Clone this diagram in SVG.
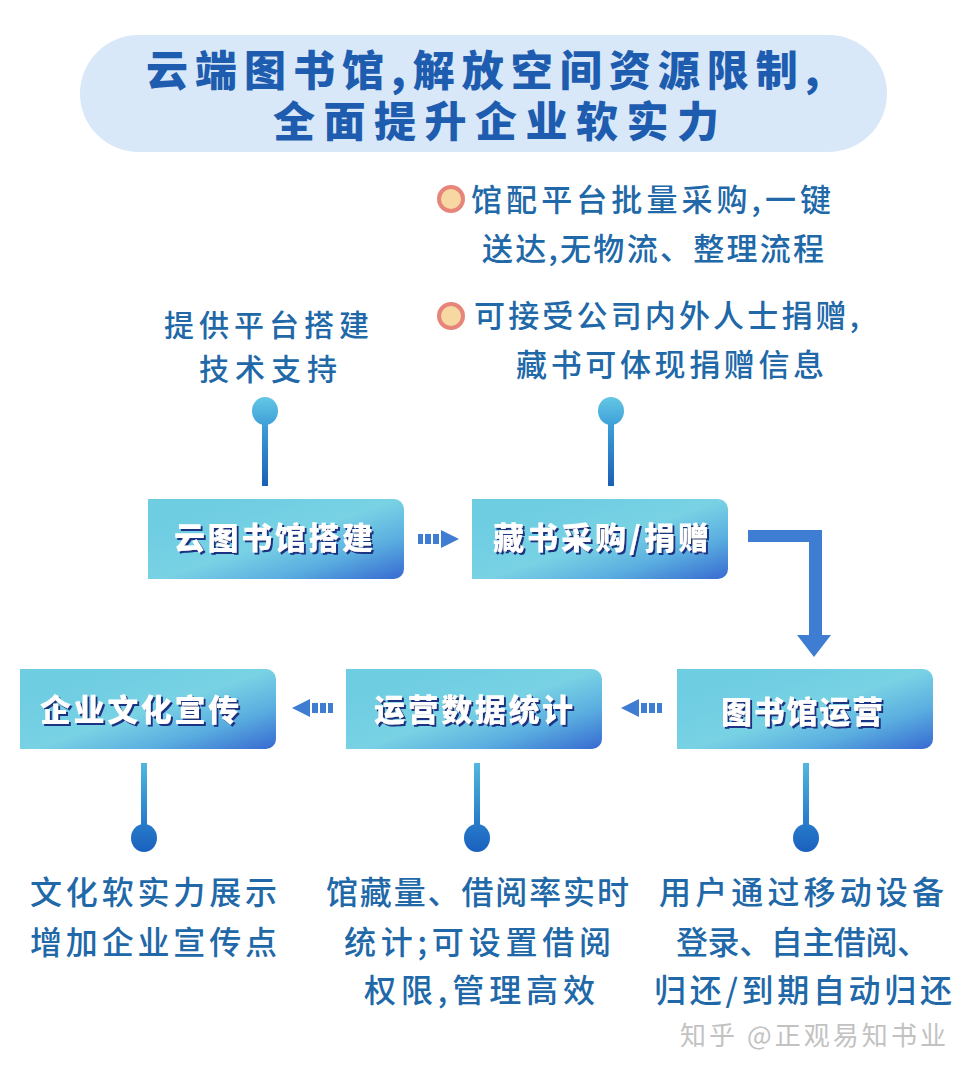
<svg xmlns="http://www.w3.org/2000/svg" width="968" height="1068" viewBox="0 0 968 1068">
<defs>
<style>
.title{font-family:"Noto Sans CJK SC","Noto Sans",sans-serif;font-weight:900;font-size:42px;fill:#1d5caf}
.note{font-family:"Noto Sans CJK SC","Noto Sans",sans-serif;font-weight:500;font-size:30px;fill:#2168a8}
.nt{font-family:"Noto Sans CJK SC","Noto Sans",sans-serif;font-weight:900;font-size:31px;fill:#ffffff;filter:url(#sh)}
.wm{font-family:"Noto Sans CJK SC","Noto Sans",sans-serif;font-weight:400;font-size:26px;fill:#c2c2c2}
.box{fill:url(#boxg)}
.arr{fill:#3f7dd2}
.bul{fill:#f8d8a2;stroke:#e8857a;stroke-width:4}
</style>
<linearGradient id="boxg" x1="0.2" y1="0.2" x2="1" y2="0.95">
<stop offset="0" stop-color="#6fcde2"/>
<stop offset="0.4" stop-color="#78d2e4"/>
<stop offset="0.7" stop-color="#5aaee0"/>
<stop offset="1" stop-color="#3a70d2"/>
</linearGradient>
<linearGradient id="pinTop" x1="0" y1="398" x2="0" y2="486" gradientUnits="userSpaceOnUse">
<stop offset="0" stop-color="#62c6e4"/>
<stop offset="0.35" stop-color="#3a9bd6"/>
<stop offset="1" stop-color="#1c5fb6"/>
</linearGradient>
<linearGradient id="pinBot" x1="0" y1="763" x2="0" y2="852" gradientUnits="userSpaceOnUse">
<stop offset="0" stop-color="#52b8de"/>
<stop offset="0.6" stop-color="#2a82cc"/>
<stop offset="1" stop-color="#1a60bf"/>
</linearGradient>
<filter id="sh" x="-10%" y="-20%" width="120%" height="150%">
<feDropShadow dx="2" dy="2" stdDeviation="0.3" flood-color="#1a3382" flood-opacity="1"/>
</filter>
</defs>
<rect x="0" y="0" width="968" height="1068" fill="#ffffff"/>

<g id="title">
<rect x="80" y="35" width="807" height="117" rx="58.5" fill="#d8e8f8"/>
<text class="title"><tspan x="146" y="86" style="letter-spacing:7px">云端图书馆,解放空间资源限制,</tspan><tspan x="273" y="137" style="letter-spacing:8.5px">全面提升企业软实力</tspan></text>
</g>

<g id="note-tech">
<text class="note" x="164" y="336" textLength="205" lengthAdjust="spacing">提供平台搭建</text>
<text class="note" x="199" y="380" textLength="138" lengthAdjust="spacing">技术支持</text>
</g>

<g id="note-purchase">
<circle class="bul" cx="451" cy="199" r="12"/>
<text class="note" x="471" y="211" textLength="360" lengthAdjust="spacing" style="font-size:31px">馆配平台批量采购,一键</text>
<text class="note" x="482" y="260" textLength="342" lengthAdjust="spacing" style="font-size:31px">送达,无物流、整理流程</text>
<circle class="bul" cx="451" cy="316" r="12"/>
<text class="note" x="474" y="327" textLength="385" lengthAdjust="spacing" style="font-size:31px">可接受公司内外人士捐赠,</text>
<text class="note" x="516" y="376" textLength="308" lengthAdjust="spacing" style="font-size:31px">藏书可体现捐赠信息</text>
</g>

<g id="connectors">
<rect x="262" y="418" width="6" height="68" fill="url(#pinTop)"/>
<ellipse cx="265" cy="411" rx="13" ry="14" fill="url(#pinTop)"/>
<rect x="608" y="418" width="6" height="68" fill="url(#pinTop)"/>
<ellipse cx="611" cy="411" rx="13" ry="14" fill="url(#pinTop)"/>
<rect class="arr" x="418" y="534" width="5" height="10"/>
<rect class="arr" x="425" y="534" width="6" height="10"/>
<rect class="arr" x="433" y="534" width="6" height="10"/>
<polygon class="arr" points="441,530 459,539 441,548"/>
<path class="arr" d="M748,530 H822 V635 H831 L814,657 L797,635 H809 V542 H748 Z"/>
<polygon class="arr" points="639,699 621,708 639,717"/>
<rect class="arr" x="641" y="703" width="6" height="10"/>
<rect class="arr" x="649" y="703" width="6" height="10"/>
<rect class="arr" x="657" y="703" width="5" height="10"/>
<polygon class="arr" points="310,699 292,708 310,717"/>
<rect class="arr" x="312" y="703" width="6" height="10"/>
<rect class="arr" x="320" y="703" width="6" height="10"/>
<rect class="arr" x="328" y="703" width="5" height="10"/>
<rect x="141" y="763" width="6" height="68" fill="url(#pinBot)"/>
<ellipse cx="144" cy="838" rx="13" ry="14" fill="url(#pinBot)"/>
<rect x="474" y="763" width="6" height="68" fill="url(#pinBot)"/>
<ellipse cx="477" cy="838" rx="13" ry="14" fill="url(#pinBot)"/>
<rect x="803" y="763" width="6" height="68" fill="url(#pinBot)"/>
<ellipse cx="806" cy="838" rx="13" ry="14" fill="url(#pinBot)"/>
</g>

<g id="node-build">
<path class="box" d="M148,499 H394 A10,10 0 0 1 404,509 V569 A10,10 0 0 1 394,579 H148 Z"/>
<text class="nt" x="174" y="549" textLength="199" lengthAdjust="spacing">云图书馆搭建</text>
</g>
<g id="node-purchase">
<path class="box" d="M472,499 H718 A10,10 0 0 1 728,509 V569 A10,10 0 0 1 718,579 H472 Z"/>
<text class="nt" x="493" y="549" textLength="216" lengthAdjust="spacing">藏书采购/捐赠</text>
</g>
<g id="node-culture">
<path class="box" d="M20,669 H266 A10,10 0 0 1 276,679 V739 A10,10 0 0 1 266,749 H20 Z"/>
<text class="nt" x="40" y="721" textLength="199" lengthAdjust="spacing">企业文化宣传</text>
</g>
<g id="node-stats">
<path class="box" d="M346,669 H592 A10,10 0 0 1 602,679 V739 A10,10 0 0 1 592,749 H346 Z"/>
<text class="nt" x="374" y="721" textLength="199" lengthAdjust="spacing">运营数据统计</text>
</g>
<g id="node-operate">
<path class="box" d="M677,669 H923 A10,10 0 0 1 933,679 V739 A10,10 0 0 1 923,749 H677 Z"/>
<text class="nt" x="721" y="723" textLength="162" lengthAdjust="spacing">图书馆运营</text>
</g>

<g id="note-culture">
<text class="note" x="30" y="904" textLength="247" lengthAdjust="spacing" style="font-size:32px">文化软实力展示</text>
<text class="note" x="30" y="954" textLength="247" lengthAdjust="spacing" style="font-size:32px">增加企业宣传点</text>
</g>
<g id="note-stats">
<text class="note" x="326" y="904" textLength="303" lengthAdjust="spacing" style="font-size:32px">馆藏量、借阅率实时</text>
<text class="note" x="344" y="954" textLength="267" lengthAdjust="spacing" style="font-size:32px">统计;可设置借阅</text>
<text class="note" x="364" y="1002" textLength="231" lengthAdjust="spacing" style="font-size:32px">权限,管理高效</text>
</g>
<g id="note-operate">
<text class="note" x="659" y="904" textLength="285" lengthAdjust="spacing" style="font-size:32px">用户通过移动设备</text>
<text class="note" x="676" y="954" textLength="253" lengthAdjust="spacing" style="font-size:32px">登录、自主借阅、</text>
<text class="note" x="654" y="1002" textLength="298" lengthAdjust="spacing" style="font-size:32px">归还/到期自动归还</text>
</g>

<text class="wm" x="680" y="1045" textLength="266" lengthAdjust="spacing">知乎 @正观易知书业</text>
</svg>
